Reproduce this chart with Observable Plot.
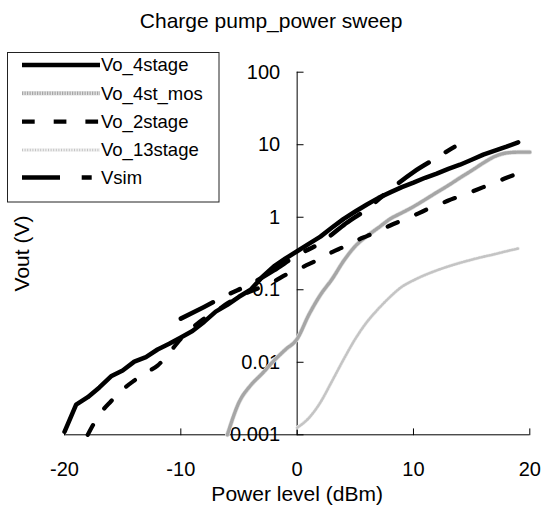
<!DOCTYPE html>
<html><head><meta charset="utf-8">
<script src="https://cdn.jsdelivr.net/npm/d3@7"></script>
<script src="https://cdn.jsdelivr.net/npm/@observablehq/plot@0.6"></script>
<style>
body{margin:0;background:#fff;}
#wrap{position:relative;width:542px;height:506px;font-family:"Liberation Sans",Arial,sans-serif;}
#wrap svg{position:absolute;left:0;top:0;}
</style></head><body><div id="wrap"></div>
<script>
// ---- data ----
const titleText = "Charge pump_power sweep";
const xLabel = "Power level (dBm)";
const yLabel = "Vout (V)";
const seriesNames = ["Vo_4stage", "Vo_4st_mos", "Vo_2stage", "Vo_13stage", "Vsim"];

const xTicks = [-20, -10, 0, 10, 20];
const xTickLabels = ["-20", "-10", "0", "10", "20"];
const yTicks = [0.001, 0.01, 0.1, 1, 10, 100];
const yTickLabels = ["0.001", "0.01", "0.1", "1", "10", "100"];

const vo4X = [-20,-19,-18,-17,-16,-15,-14,-13,-12,-11,-10,-9,-8,-7,-6,-5,-4,-3,-2,-1,0,1,2,3,4,5,6,7,8,9,10,11,12,13,14,15,16,17,18,19];
const vo4Y = [0.0011,0.0026,0.0033,0.0045,0.0064,0.0077,0.0102,0.0118,0.015,0.018,0.022,0.027,0.036,0.05,0.062,0.08,0.10,0.15,0.21,0.27,0.34,0.43,0.54,0.72,0.95,1.2,1.5,1.85,2.2,2.6,3.0,3.5,4.0,4.65,5.3,6.2,7.3,8.3,9.4,10.8];

const mosX = [-6,-5,-4,-3,-2,-1,0,1,2,3,4,5,6,7,8,9,10,11,12,13,14,15,16,17,18,19,20];
const mosY = [0.001,0.0028,0.0048,0.007,0.0105,0.015,0.021,0.045,0.085,0.14,0.25,0.4,0.55,0.72,0.95,1.15,1.4,1.75,2.2,2.75,3.5,4.4,5.6,6.9,7.7,7.9,7.9];

const vo2X = [-18,-17,-16,-15,-14,-13,-12,-11,-10,-9,-8,-7,-6,-5,-4,-3,-2,-1,0,1,2,3,4,5,6,7,8,9,10,11,12,13,14,15,16,17,18,19];
const vo2Y = [0.001,0.0019,0.0029,0.0042,0.0056,0.0072,0.009,0.0135,0.021,0.03,0.04,0.05,0.065,0.08,0.095,0.11,0.13,0.16,0.19,0.225,0.27,0.33,0.39,0.47,0.55,0.64,0.77,0.9,1.05,1.25,1.45,1.7,1.95,2.25,2.6,3.0,3.5,4.0];

const vo13X = [0,1,2,3,4,5,6,7,8,9,10,11,12,13,14,15,16,17,18,19];
const vo13Y = [0.00125,0.0017,0.0028,0.0055,0.011,0.021,0.036,0.055,0.08,0.11,0.135,0.16,0.185,0.21,0.235,0.26,0.285,0.31,0.34,0.37];

const vsimX = [-10,-8,-6,-4,-2,0,2,4,6,8,10,12,14,14.5];
const vsimY = [0.04,0.058,0.085,0.12,0.185,0.3,0.44,0.78,1.3,2.4,4.2,6.6,10.2,11];

// ---- build tables ----
const toRows = (xs, ys) => xs.map((x, i) => ({x, y: ys[i]}));
const vo4 = toRows(vo4X, vo4Y);
const mos = toRows(mosX, mosY);
const vo2 = toRows(vo2X, vo2Y);
const vo13 = toRows(vo13X, vo13Y);
const vsim = toRows(vsimX, vsimY);

// styles
const st = {
  "Vo_4stage": [{stroke: "#000", strokeWidth: 4.5}],
  "Vo_4st_mos": [{stroke: "#e2e2e2", strokeWidth: 4.6}, {stroke: "#a6a6a6", strokeWidth: 3.4, strokeDasharray: "1.2,1.3"}],
  "Vo_2stage": [{stroke: "#000", strokeWidth: 4.2, strokeDasharray: "11,20"}],
  "Vo_13stage": [{stroke: "#f0f0f0", strokeWidth: 3.6}, {stroke: "#c4c4c4", strokeWidth: 2.6, strokeDasharray: "1,1.6"}],
  "Vsim": [{stroke: "#000", strokeWidth: 4.5, strokeDasharray: "36,20,10,20"}]
};
const legendDash = {"Vo_2stage": "12.7,19", "Vsim": "38,21.7,10,30"};

const tickShape = {draw(context, l) { context.moveTo(0, 0); context.lineTo(0, -l); }};
const font = '"Liberation Sans", Arial, sans-serif';

const lineMarks = (data, name, curve) => st[name].map(s => Plot.line(data, {x: "x", y: "y", curve, strokeLinejoin: "round", ...s}));

const chart = Plot.plot({
  width: 542, height: 506,
  marginLeft: 64, marginRight: 12.7, marginTop: 71.7, marginBottom: 71.7,
  style: {fontFamily: font, background: "transparent", color: "#000", overflow: "visible"},
  x: {domain: [-20, 20], axis: null},
  y: {type: "log", domain: [0.001, 100], axis: null},
  marks: [
    // title and axis titles
    Plot.text([titleText], {frameAnchor: "top", textAnchor: "middle", lineAnchor: "middle", dx: -26, dy: -50.7, fontSize: 21, text: d => d}),
    Plot.text([xLabel], {frameAnchor: "bottom", textAnchor: "middle", lineAnchor: "middle", dy: 59, fontSize: 21, text: d => d}),
    Plot.text([yLabel], {frameAnchor: "left", textAnchor: "middle", lineAnchor: "middle", rotate: -90, dx: -42, fontSize: 21, text: d => d}),
    // x axis
    Plot.ruleY([yTicks[0]], {stroke: "#000", strokeWidth: 1}),
    Plot.vector(xTicks, {x: d => d, frameAnchor: "bottom", length: 6, rotate: 0, anchor: "start", shape: tickShape, stroke: "#000", strokeWidth: 1}),
    Plot.text(xTicks, {x: d => d, frameAnchor: "bottom", lineAnchor: "middle", dy: 35, fontSize: 20, text: (d, i) => xTickLabels[i]}),
    // y axis crossing at x = 0
    Plot.ruleX([0], {stroke: "#000", strokeWidth: 1}),
    Plot.vector(yTicks, {x: 0, y: d => d, length: 6, rotate: 90, anchor: "start", shape: tickShape, stroke: "#000", strokeWidth: 1}),
    Plot.text(yTicks, {x: 0, y: d => d, textAnchor: "end", lineAnchor: "middle", dx: -17, fontSize: 20, text: (d, i) => yTickLabels[i]}),
    // series
    ...lineMarks(vo13, "Vo_13stage", "monotone-x"),
    ...lineMarks(mos, "Vo_4st_mos", "monotone-x"),
    ...lineMarks(vo2, "Vo_2stage", "monotone-x"),
    ...lineMarks(vo4, "Vo_4stage", "linear"),
    ...lineMarks(vsim, "Vsim", "monotone-x")
  ]
});
const wrap = document.getElementById("wrap");
wrap.appendChild(chart);

// ---- legend ----
const leg = d3.create("svg").attr("width", 542).attr("height", 506).style("pointer-events", "none");
leg.append("rect").attr("x", 7.5).attr("y", 52.5).attr("width", 211.5).attr("height", 149.5)
  .attr("fill", "#fff").attr("stroke", "#222").attr("stroke-width", 1);
const rowY = [65, 93.3, 121.7, 150, 177.4];
seriesNames.forEach((name, i) => {
  const g = leg.append("g");
  st[name].forEach(s => {
    g.append("line").attr("x1", 22).attr("x2", 100).attr("y1", rowY[i]).attr("y2", rowY[i])
      .attr("stroke", s.stroke).attr("stroke-width", s.strokeWidth)
      .attr("stroke-dasharray", legendDash[name] || s.strokeDasharray || null);
  });
  g.append("text").attr("x", 101).attr("y", rowY[i]).attr("dy", "0.35em")
    .attr("font-family", font).attr("font-size", 18.5).attr("fill", "#000").text(name);
});
wrap.appendChild(leg.node());
</script>
</body></html>
